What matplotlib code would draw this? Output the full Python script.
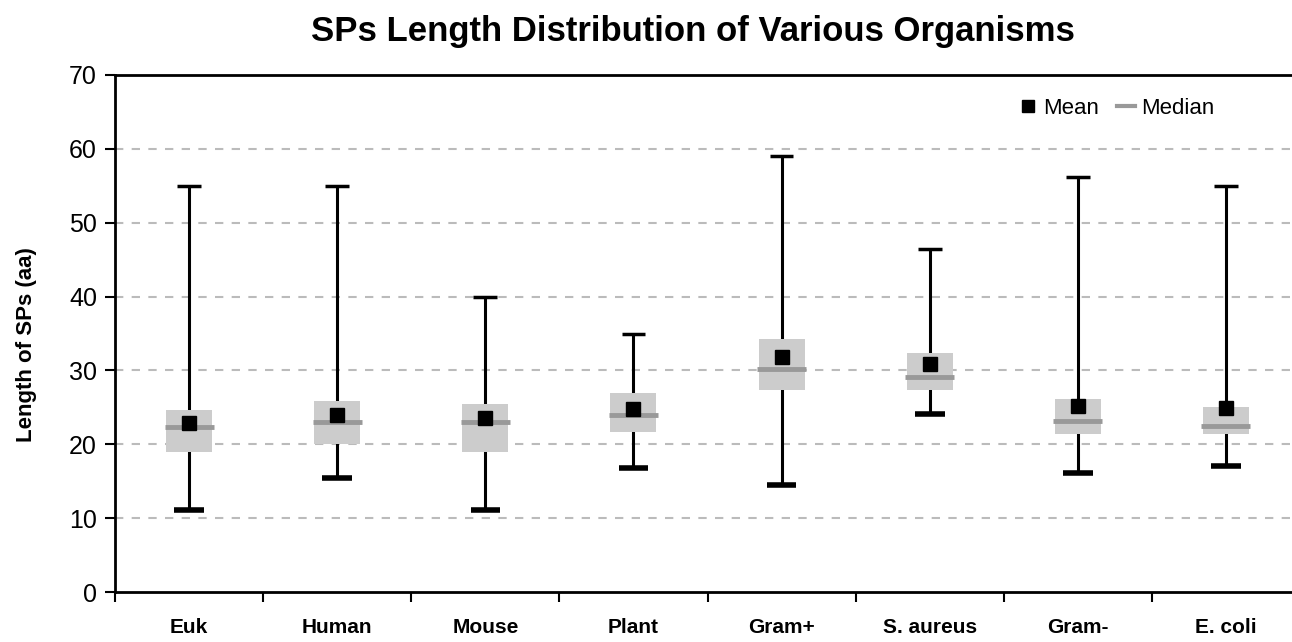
import matplotlib.pyplot as plt
from matplotlib.lines import Line2D
import numpy as np

# values
organisms = ["Euk", "Human", "Mouse", "Plant", "Gram+", "S. aureus", "Gram-", "E. coli"]
whisker_low = [11.1, 15.4, 11.1, 16.8, 14.5, 24.1, 16.1, 17.0]
box_low = [19.0, 20.0, 19.0, 21.6, 27.3, 27.3, 21.4, 21.4]
median = [22.3, 23.0, 23.0, 23.9, 30.2, 29.1, 23.2, 22.5]
mean = [22.9, 23.9, 23.5, 24.8, 31.8, 30.9, 25.2, 24.9]
box_high = [24.7, 25.8, 25.5, 27.0, 34.2, 32.4, 26.1, 25.0]
whisker_high = [55.0, 55.0, 40.0, 35.0, 59.1, 46.4, 56.2, 55.0]
y_ticks = [0, 10, 20, 30, 40, 50, 60, 70]


def main():
    plt.rcParams["font.family"] = ["Liberation Sans", "DejaVu Sans"]

    fig = plt.figure(figsize=(12.92, 6.42), dpi=100)
    ax = fig.add_axes([115 / 1292, 1 - 592 / 642, 1185 / 1292, 517 / 642])

    x = np.arange(len(organisms))
    low = np.array(box_low)
    high = np.array(box_high)

    # whiskers and caps
    ax.vlines(x, whisker_low, whisker_high, color="black", lw=2.2, zorder=2)
    ax.hlines(whisker_low, x - 0.1, x + 0.1, color="black", lw=4, zorder=2)
    ax.hlines(whisker_high, x - 0.08, x + 0.08, color="black", lw=2.5, zorder=2)

    # boxes
    ax.bar(x, high - low, bottom=low, width=0.31, color="#cccccc",
           edgecolor="none", zorder=3)

    # median and mean
    ax.hlines(median, x - 0.165, x + 0.165, color="#999999", lw=3.5, zorder=4)
    ax.plot(x, mean, ls="none", marker="s", ms=10, color="black", zorder=5)

    ax.set_xlim(-0.5, len(organisms) - 0.5)
    ax.set_ylim(0, 70)
    ax.set_yticks(y_ticks)
    ax.set_yticklabels([str(t) for t in y_ticks], fontsize=18)
    ax.set_xticks(np.arange(len(organisms) + 1) - 0.5)
    ax.set_xticklabels([])
    ax.set_xticks(x, minor=True)
    ax.set_xticklabels(organisms, minor=True, fontsize=15, fontweight="bold")
    ax.tick_params(axis="x", which="minor", length=0, pad=19)
    ax.tick_params(axis="x", which="major", length=7, width=1.5, direction="out")
    ax.tick_params(axis="y", length=7, width=1.5, direction="out", pad=6)

    for y in y_ticks[1:-1]:
        ax.axhline(y, color="#bbbbbb", lw=1.5, ls=(0, (4, 4)), zorder=1)

    for side in ["left", "bottom", "top"]:
        ax.spines[side].set_linewidth(2)
    ax.spines["right"].set_visible(False)

    fig.text(27 / 1292, 1 - 345 / 642, "Length of SPs (aa)", rotation=90,
             ha="center", va="center", fontsize=16, fontweight="bold")
    fig.text(693 / 1292, 1 - 32 / 642, "SPs Length Distribution of Various Organisms",
             ha="center", va="center", fontsize=25, fontweight="bold")

    handles = [
        Line2D([], [], ls="none", marker="s", ms=8, color="black"),
        Line2D([], [], color="#999999", lw=3),
    ]
    ax.legend(handles, ["Mean", "Median"], ncol=2, frameon=False, fontsize=16,
              loc="center right", bbox_to_anchor=(0.945, 0.936),
              handlelength=0.8, handletextpad=0.3, columnspacing=0.8)

    fig.savefig("out.png", dpi=100)


if __name__ == "__main__":
    main()
